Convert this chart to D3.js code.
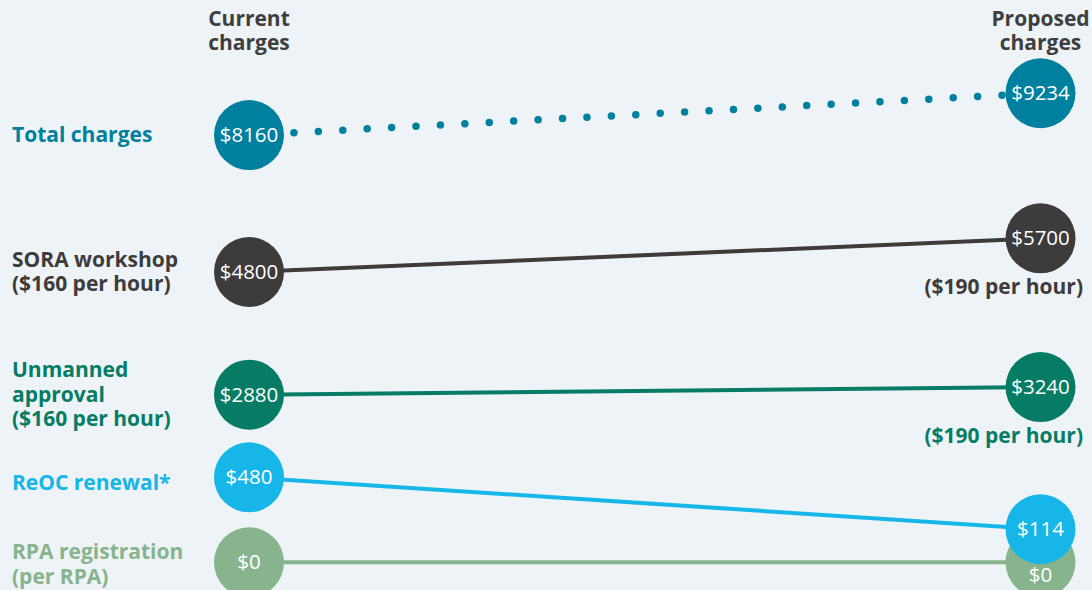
<!DOCTYPE html>
<html>
<head>
<meta charset="utf-8">
<script src="https://cdn.jsdelivr.net/npm/d3@7"></script>
<style>
  html, body { margin: 0; padding: 0; background: #edf3f6; }
  svg { display: block; font-family: "Open Sans", sans-serif; }
</style>
</head>
<body>
<svg id="chart" width="1092" height="590"></svg>
<script>
// data
const columns = ['Current charges', 'Proposed charges'];
const rows = ['Total charges', 'SORA workshop', 'Unmanned approval', 'ReOC renewal*', 'RPA registration'];
const rowLabels = [
  ['Total charges'],
  ['SORA workshop', '($160 per hour)'],
  ['Unmanned', 'approval', '($160 per hour)'],
  ['ReOC renewal*'],
  ['RPA registration', '(per RPA)']
];
const currentCharges = [8160, 4800, 2880, 480, 0];
const proposedCharges = [9234, 5700, 3240, 114, 0];
const proposedNotes = ['', '($190 per hour)', '($190 per hour)', '', ''];
// vertical ladder level (0 bottom .. 100 top) the designer gave each end of a slope
const levelCurrent = [77.1, 53.9, 33.1, 19.1, 4.7];
const levelProposed = [84.2, 59.6, 34.4, 10.3, 4.7];
const colors = ['#00809f', '#3d3b3c', '#067c65', '#17b6e9', '#88b48d'];

const W = 1092, H = 590;
const svg = d3.select('#chart');

const x = d3.scalePoint().domain(columns).range([249, 1040.5]);
const y = d3.scaleLinear().domain([0, 100]).range([H, 0]);
const R = 35;
const fmt = v => '$' + d3.format('d')(v);
// small hand nudges of row labels against their circle, as in the original layout
const labelNudge = [0, 0, 0, 6, 2];

const data = rows.map((r, i) => ({
  name: r, i: i,
  x1: x(columns[0]), y1: y(levelCurrent[i]),
  x2: x(columns[1]), y2: y(levelProposed[i]),
  c: colors[i]
}));

// column headers, one text per line
columns.forEach(c => {
  c.split(' ').forEach((w, k) => {
    svg.append('text').attr('x', x(c)).attr('y', 26 + k * 24)
      .attr('text-anchor', 'middle').attr('font-size', 21).attr('font-weight', 700).attr('fill', '#3e3e3e')
      .text(w);
  });
});

// row labels
data.forEach(d => {
  const lines = rowLabels[d.i];
  const n = lines.length;
  lines.forEach((l, k) => {
    svg.append('text').attr('x', 12)
      .attr('y', d.y1 + 7 - (n - 1) * 12.25 + k * 24.5 + labelNudge[d.i])
      .attr('font-size', 21).attr('font-weight', 700).attr('fill', d.c)
      .text(l);
  });
});

// slopes drawn bottom row first so upper circles sit on top
const g = svg.append('g');
data.slice().reverse().forEach(d => {
  if (d.i === 0) {
    const dx = d.x2 - d.x1, dy = d.y2 - d.y1;
    const len = Math.hypot(dx, dy);
    const ux = dx / len, uy = dy / len;
    const sx = d.x1 + ux * (R + 10), sy = d.y1 + uy * (R + 10);
    const ex = d.x2 - ux * (R + 3.5), ey = d.y2 - uy * (R + 3.5);
    const l2 = Math.hypot(ex - sx, ey - sy);
    const gap = l2 / Math.round(l2 / 24.4);
    g.append('line').attr('x1', sx).attr('y1', sy).attr('x2', ex).attr('y2', ey)
      .attr('stroke', d.c).attr('stroke-width', 7.5).attr('stroke-linecap', 'round')
      .attr('stroke-dasharray', `0 ${gap}`);
  } else {
    g.append('line').attr('x1', d.x1).attr('y1', d.y1).attr('x2', d.x2).attr('y2', d.y2)
      .attr('stroke', d.c).attr('stroke-width', 4);
  }
});

const ends = [];
data.slice().reverse().forEach(d => {
  ends.push({ cx: d.x1, cy: d.y1, v: currentCharges[d.i], c: d.c, nudge: 0 });
  // the half-hidden $0 label on the right sits below the overlapping $114 circle
  ends.push({ cx: d.x2, cy: d.y2, v: proposedCharges[d.i], c: d.c, nudge: d.i === 4 ? 13 : 0 });
});
const node = svg.append('g').selectAll('g').data(ends).join('g');
node.append('circle').attr('cx', e => e.cx).attr('cy', e => e.cy).attr('r', R).attr('fill', e => e.c);
node.append('text').attr('x', e => e.cx).attr('y', e => e.cy + 7 + e.nudge)
  .attr('text-anchor', 'middle').attr('font-size', 20.5).attr('fill', '#fff')
  .text(e => fmt(e.v));

// notes under proposed circles
data.forEach(d => {
  if (!proposedNotes[d.i]) return;
  svg.append('text').attr('x', 1083).attr('y', d.y2 + 56)
    .attr('text-anchor', 'end').attr('font-size', 21).attr('font-weight', 700).attr('fill', d.c)
    .text(proposedNotes[d.i]);
});
</script>
</body>
</html>
